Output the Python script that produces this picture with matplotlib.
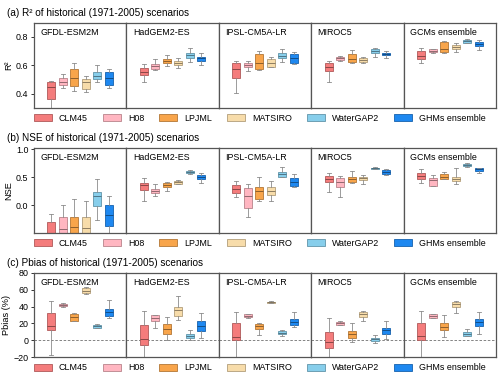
import matplotlib
matplotlib.use('Agg')
import matplotlib.pyplot as plt
import matplotlib.colors as mcolors
from matplotlib.patches import Patch

plt.rcParams['font.family'] = ['Liberation Sans', 'DejaVu Sans']
plt.rcParams['font.size'] = 6.2

gcms = ['GFDL-ESM2M', 'HadGEM2-ES', 'IPSL-CM5A-LR', 'MIROC5', 'GCMs ensemble']
ghms = ['CLM45', 'H08', 'LPJML', 'MATSIRO', 'WaterGAP2', 'GHMs ensemble']
colors = ['#F47C7C', '#FFB6C1', '#F8A54B', '#F7DCAA', '#87CEEB', '#1E88F0']

# (a) R2, one row per GCM, one value per GHM
r2_lo = [[0.20, 0.44, 0.42, 0.414, 0.486, 0.442],
         [0.486, 0.566, 0.597, 0.578, 0.622, 0.601],
         [0.405, 0.56, 0.57, 0.585, 0.622, 0.608],
         [0.484, 0.632, 0.62, 0.62, 0.657, 0.653],
         [0.62, 0.69, 0.69, 0.692, 0.757, 0.709]]
r2_q1 = [[0.365, 0.463, 0.456, 0.433, 0.503, 0.463],
         [0.533, 0.573, 0.615, 0.603, 0.655, 0.63],
         [0.51, 0.585, 0.573, 0.59, 0.653, 0.615],
         [0.559, 0.641, 0.622, 0.625, 0.69, 0.674],
         [0.646, 0.695, 0.692, 0.713, 0.76, 0.739]]
r2_med = [[0.446, 0.486, 0.514, 0.486, 0.526, 0.512],
          [0.55, 0.596, 0.629, 0.62, 0.674, 0.65],
          [0.575, 0.60, 0.615, 0.62, 0.667, 0.65],
          [0.59, 0.65, 0.648, 0.639, 0.704, 0.683],
          [0.667, 0.704, 0.716, 0.728, 0.772, 0.753]]
r2_q3 = [[0.485, 0.51, 0.573, 0.503, 0.55, 0.552],
         [0.58, 0.608, 0.643, 0.634, 0.69, 0.66],
         [0.613, 0.62, 0.678, 0.643, 0.685, 0.68],
         [0.62, 0.657, 0.678, 0.653, 0.713, 0.69],
         [0.702, 0.713, 0.765, 0.742, 0.781, 0.763]]
r2_hi = [[0.49, 0.54, 0.615, 0.526, 0.60, 0.573],
         [0.608, 0.643, 0.672, 0.655, 0.725, 0.69],
         [0.634, 0.63, 0.704, 0.657, 0.713, 0.692],
         [0.629, 0.667, 0.711, 0.662, 0.725, 0.702],
         [0.72, 0.718, 0.774, 0.76, 0.786, 0.777]]

# (b) NSE
nse_lo = [[-0.9, -0.65, -0.65, -0.65, -0.275, -0.6],
          [0.07, 0.154, 0.255, 0.38, 0.553, 0.404],
          [0.143, -0.209, 0.065, 0.077, 0.50, 0.32],
          [0.243, 0.148, 0.40, 0.375, 0.64, 0.541],
          [0.393, 0.34, 0.46, 0.386, 0.69, 0.571]]
nse_q1 = [[-0.75, -0.6, -0.6, -0.6, -0.025, -0.37],
          [0.268, 0.214, 0.32, 0.386, 0.57, 0.47],
          [0.214, -0.054, 0.107, 0.178, 0.50, 0.35],
          [0.416, 0.32, 0.41, 0.458, 0.643, 0.565],
          [0.464, 0.35, 0.47, 0.434, 0.696, 0.618]]
nse_med = [[-0.55, -0.43, -0.40, -0.42, 0.166, -0.18],
           [0.363, 0.26, 0.363, 0.41, 0.595, 0.505],
           [0.286, 0.166, 0.244, 0.25, 0.56, 0.416],
           [0.47, 0.41, 0.464, 0.488, 0.66, 0.60],
           [0.529, 0.446, 0.51, 0.475, 0.725, 0.643]]
nse_q3 = [[-0.30, -0.22, -0.22, -0.22, 0.232, -0.005],
          [0.40, 0.29, 0.39, 0.434, 0.607, 0.535],
          [0.363, 0.303, 0.333, 0.333, 0.60, 0.482],
          [0.523, 0.482, 0.51, 0.51, 0.666, 0.625],
          [0.582, 0.493, 0.565, 0.51, 0.743, 0.66]]
nse_hi = [[-0.155, 0.0, 0.11, 0.07, 0.464, 0.154],
          [0.487, 0.375, 0.41, 0.446, 0.625, 0.57],
          [0.434, 0.386, 0.51, 0.44, 0.69, 0.553],
          [0.57, 0.529, 0.613, 0.541, 0.678, 0.643],
          [0.648, 0.535, 0.589, 0.66, 0.76, 0.671]]

# (c) Pbias (%)
pb_lo = [[-17.6, 40.0, 23.0, 55.0, 14.5, 27.0],
         [-25.0, 15.0, 0.8, 24.3, 0.0, 3.0],
         [-25.0, 27.0, 5.9, 44.0, 5.0, 15.7],
         [-25.0, 18.0, -2.0, 23.5, -2.7, 2.0],
         [-25.0, 27.0, 3.9, 32.0, 5.0, 7.8]]
pb_q1 = [[11.8, 40.4, 23.5, 55.7, 14.9, 28.6],
         [-5.0, 23.1, 7.0, 29.4, 3.1, 11.0],
         [0.0, 27.8, 12.9, 44.3, 7.5, 18.4],
         [-8.6, 18.4, 3.1, 28.2, -0.4, 7.8],
         [0.0, 27.0, 11.8, 40.0, 5.5, 16.5]]
pb_med = [[17.6, 42.0, 27.5, 58.8, 16.8, 33.0],
          [2.0, 26.7, 13.7, 36.0, 5.5, 17.6],
          [3.9, 29.4, 16.5, 45.0, 9.0, 21.6],
          [-1.6, 20.4, 7.8, 31.4, 1.6, 11.8],
          [4.7, 29.4, 16.0, 43.1, 7.8, 21.2]]
pb_q3 = [[32.5, 43.5, 30.6, 61.6, 18.0, 37.3],
         [18.4, 29.8, 18.8, 40.0, 7.8, 23.5],
         [20.4, 31.0, 19.6, 45.9, 10.6, 24.7],
         [10.2, 22.3, 11.4, 34.1, 3.1, 14.9],
         [20.0, 31.0, 20.0, 45.5, 9.8, 24.7]]
pb_hi = [[46.0, 44.3, 32.5, 62.7, 18.8, 47.8],
         [35.0, 30.2, 27.8, 53.0, 12.5, 32.0],
         [33.3, 31.4, 20.4, 46.3, 12.5, 33.3],
         [27.0, 22.7, 20.0, 35.3, 6.3, 23.1],
         [35.3, 31.4, 30.2, 46.3, 13.7, 34.1]]


def darker(c, f=0.72):
    r, g, b = mcolors.to_rgb(c)
    return (r * f, g * f, b * f)


fig = plt.figure(figsize=(5, 3.75), dpi=100)

x0, wtot = 0.068, 0.924
w = wtot / 5


def draw_row(top, bottom, lo, q1, med, q3, hi, ylim, yticks, ylabel, title, legy, zero=False):
    fig.text(0.014, top + 0.026, title, fontsize=7.2, va='center', ha='left')
    for i, g in enumerate(gcms):
        ax = fig.add_axes([x0 + i * w, bottom, w, top - bottom])
        stats = []
        for j in range(len(ghms)):
            stats.append(dict(whislo=lo[i][j], q1=q1[i][j], med=med[i][j],
                              q3=q3[i][j], whishi=hi[i][j], fliers=[]))
        if zero:
            ax.axhline(0, color='#707070', ls='--', lw=0.6, dashes=(3, 2), zorder=1)
        bp = ax.bxp(stats, positions=range(1, 7), widths=0.7, patch_artist=True,
                    showfliers=False, capwidths=0.35)
        for j, c in enumerate(colors):
            bp['boxes'][j].set_facecolor(c)
            bp['boxes'][j].set_edgecolor(darker(c))
            bp['boxes'][j].set_linewidth(0.6)
            bp['medians'][j].set_color(darker(c, 0.5))
            bp['medians'][j].set_linewidth(0.6)
        for k in range(12):
            bp['whiskers'][k].set_color('#8c8c8c')
            bp['whiskers'][k].set_linewidth(0.6)
            bp['caps'][k].set_color('#8c8c8c')
            bp['caps'][k].set_linewidth(0.6)
        ax.set_xlim(-0.52, 7.52)
        ax.set_ylim(*ylim)
        ax.set_xticks([])
        for s in ax.spines.values():
            s.set_color('#555555')
            s.set_linewidth(0.9)
        ax.text(0.07, 0.94, g, transform=ax.transAxes, ha='left', va='top', fontsize=6.4)
        if i == 0:
            ax.set_yticks(yticks)
            ax.tick_params(axis='y', length=2.5, width=0.7, pad=1.5, color='#333333',
                           labelsize=6.4)
            ax.set_ylabel(ylabel, labelpad=2, fontsize=6.6)
        else:
            ax.set_yticks([])
    handles = [Patch(facecolor=c, edgecolor=darker(c), linewidth=0.6) for c in colors]
    fig.legend(handles, ghms, loc='center', bbox_to_anchor=(0.52, legy), ncol=6,
               frameon=False, handlelength=2.0, handleheight=0.9, handletextpad=0.8,
               columnspacing=1.7, fontsize=6.4)


draw_row(0.9395, 0.712, r2_lo, r2_q1, r2_med, r2_q3, r2_hi, (0.3, 0.9),
         [0.4, 0.6, 0.8], 'R²', '(a) R² of historical (1971-2005) scenarios', 0.685)
draw_row(0.606, 0.379, nse_lo, nse_q1, nse_med, nse_q3, nse_hi, (-0.5, 1.03),
         [0.0, 0.5, 1.0], 'NSE', '(b) NSE of historical (1971-2005) scenarios', 0.352)
draw_row(0.273, 0.047, pb_lo, pb_q1, pb_med, pb_q3, pb_hi, (-20, 80),
         [-20, 0, 20, 40, 60, 80], 'Pbias (%)', '(c) Pbias of historical (1971-2005) scenarios',
         0.019, zero=True)

fig.savefig('out.png', dpi=100)
